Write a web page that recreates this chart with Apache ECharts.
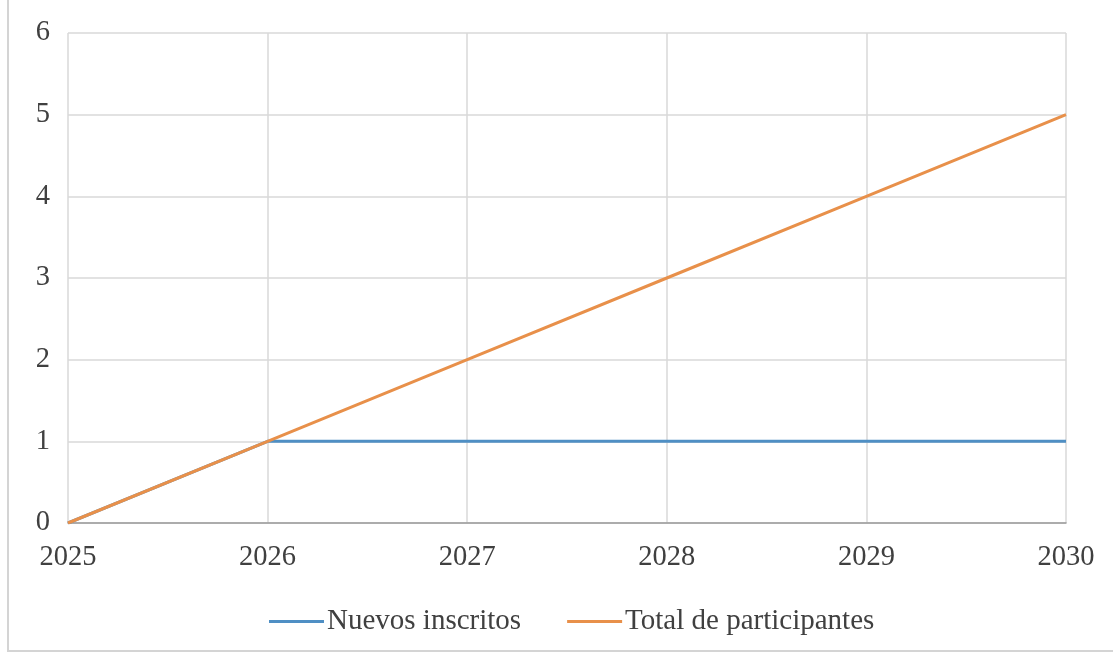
<!DOCTYPE html>
<html>
<head>
<meta charset="utf-8">
<script src="https://cdn.jsdelivr.net/npm/echarts@6/dist/echarts.min.js"></script>
<style>
html,body{margin:0;padding:0;background:#fff;}
#chart{width:1113px;height:653px;}
</style>
</head>
<body>
<div id="chart"></div>
<script>
const years = ['2025', '2026', '2027', '2028', '2029', '2030'];
const nuevosInscritos = [0, 1, 1, 1, 1, 1];
const totalParticipantes = [0, 1, 2, 3, 4, 5];
const seriesNames = ['Nuevos inscritos', 'Total de participantes'];

const font = '"Liberation Serif", "Times New Roman", serif';
const chart = echarts.init(document.getElementById('chart'));
chart.setOption({
  backgroundColor: '#ffffff',
  animation: false,
  graphic: [{
    type: 'rect',
    shape: { x: 8, y: -10, width: 1200, height: 661 },
    style: { fill: 'none', stroke: '#d4d4d4', lineWidth: 2 },
    silent: true
  }],
  grid: { left: 68, right: 47, top: 33, bottom: 130 },
  legend: {
    left: 264,
    top: 602,
    icon: 'rect',
    itemWidth: 55,
    itemHeight: 3,
    itemGap: 46,
    textStyle: { fontFamily: font, fontSize: 29, color: '#404040', padding: [0, 0, 0, -2] },
    data: seriesNames
  },
  xAxis: {
    type: 'category',
    data: years,
    boundaryGap: false,
    axisLine: { show: true, lineStyle: { color: '#9a9a9a', width: 1.5 } },
    axisTick: { show: false },
    splitLine: { show: true, lineStyle: { color: '#d9d9d9', width: 1.5 } },
    axisLabel: { fontFamily: font, fontSize: 28.5, color: '#404040', margin: 20 }
  },
  yAxis: {
    type: 'value',
    min: 0,
    max: 6,
    interval: 1,
    axisLine: { show: false },
    axisTick: { show: false },
    splitLine: { show: true, lineStyle: { color: '#d9d9d9', width: 1.5 } },
    axisLabel: { fontFamily: font, fontSize: 28.5, color: '#404040', margin: 18 }
  },
  series: [
    {
      name: seriesNames[0],
      type: 'line',
      data: nuevosInscritos,
      symbol: 'none',
      lineStyle: { color: '#4F8FC4', width: 3 },
      itemStyle: { color: '#4F8FC4' },
      z: 2
    },
    {
      name: seriesNames[1],
      type: 'line',
      data: totalParticipantes,
      symbol: 'none',
      lineStyle: { color: '#E8904A', width: 3 },
      itemStyle: { color: '#E8904A' },
      z: 3
    }
  ]
});
</script>
</body>
</html>
